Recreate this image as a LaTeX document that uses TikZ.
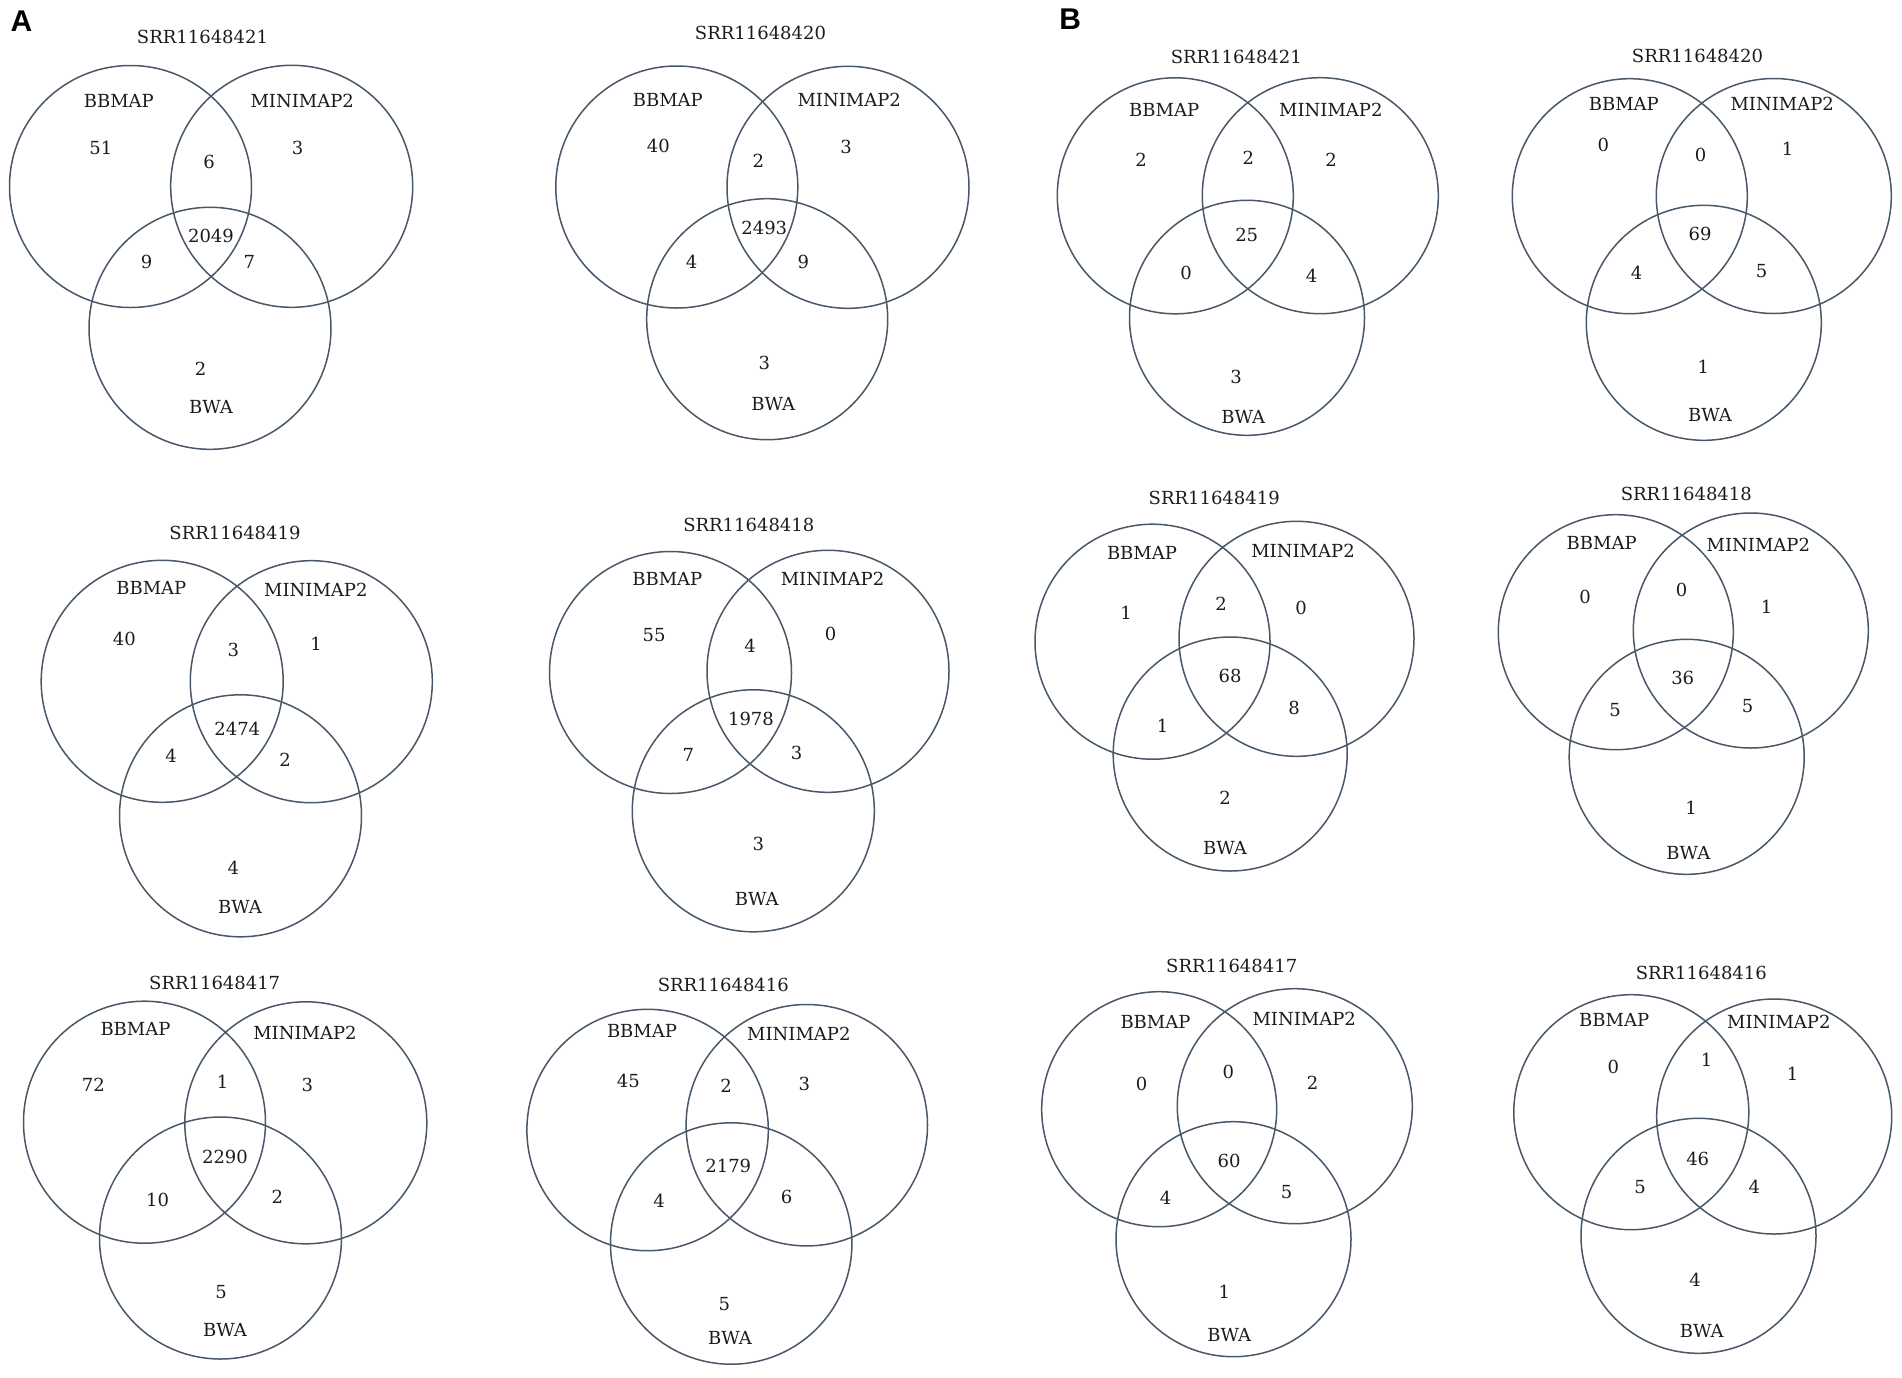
\documentclass[tikz,border=0pt]{standalone}
\usepackage{fontspec}
\setmainfont{DejaVu Serif}
\newfontfamily\panelfont{Liberation Sans}
\definecolor{ringcol}{RGB}{72,88,104}
\definecolor{txtcol}{RGB}{28,28,28}
\tikzset{
  ring/.style={draw=ringcol, line width=0.75pt},
  ttl/.style={inner sep=0pt, text=txtcol, font=\fontsize{9}{10}\selectfont},
  lbl/.style={inner sep=0pt, text=txtcol, font=\fontsize{9}{10}\selectfont},
  num/.style={inner sep=0pt, text=txtcol, font=\fontsize{9}{10}\selectfont},
  panel/.style={inner sep=0pt, text=black, font=\panelfont\bfseries\fontsize{15}{16}\selectfont}
}
\begin{document}
\begin{tikzpicture}[x=0.5pt,y=-0.5pt]
\useasboundingbox[fill=white] (0,0) rectangle (1902,1377);
\node[panel] (pA) at (21.5,21) {A};
\node[panel] (pB) at (1070.3,19.2) {B};
% ---------- D1 ----------
\coordinate (d1A) at (130.5,186.5); \coordinate (d1B) at (291.7,186.3); \coordinate (d1C) at (210,328.3);
\draw[ring] (d1A) circle[radius=121]; \draw[ring] (d1B) circle[radius=121]; \draw[ring] (d1C) circle[radius=121];
\node[ttl] (d1t) at (202.5,36.7) {SRR11648421};
\node[lbl] (d1la) at (118.8,100.5) {BBMAP};
\node[lbl] (d1lb) at (302.2,100.5) {MINIMAP2};
\node[lbl] (d1lc) at (211,406.7) {BWA};
\node[num] (d1a) at (100.8,147.5) {51};
\node[num] (d1b) at (297.7,147.7) {3};
\node[num] (d1ab) at (209,161.7) {6};
\node[num] (d1abc) at (211,236.3) {2049};
\node[num] (d1ac) at (146.7,261.7) {9};
\node[num] (d1bc) at (249.3,261.7) {7};
\node[num] (d1c) at (200.7,369.3) {2};
% ---------- D2 ----------
\coordinate (d2A) at (676.8,187); \coordinate (d2B) at (848,187.3); \coordinate (d2C) at (767.2,319.2);
\draw[ring] (d2A) circle[radius=121]; \draw[ring] (d2B) circle[radius=121]; \draw[ring] (d2C) circle[radius=120.5];
\node[ttl] (d2t) at (760.5,33.3) {SRR11648420};
\node[lbl] (d2la) at (667.8,100) {BBMAP};
\node[lbl] (d2lb) at (849.2,100) {MINIMAP2};
\node[lbl] (d2lc) at (773.3,404.3) {BWA};
\node[num] (d2a) at (658.3,145.7) {40};
\node[num] (d2b) at (846,146.7) {3};
\node[num] (d2ab) at (758.3,161) {2};
\node[num] (d2abc) at (764.3,228.3) {2493};
\node[num] (d2ac) at (691.7,262.3) {4};
\node[num] (d2bc) at (803.3,261.7) {9};
\node[num] (d2c) at (764.3,363.3) {3};
% ---------- D3 ----------
\coordinate (d3A) at (1175.3,195.8); \coordinate (d3B) at (1320.3,195.7); \coordinate (d3C) at (1247,317.8);
\draw[ring] (d3A) circle[radius=118]; \draw[ring] (d3B) circle[radius=118]; \draw[ring] (d3C) circle[radius=117.5];
\node[ttl] (d3t) at (1236.3,56.7) {SRR11648421};
\node[lbl] (d3la) at (1164.2,110) {BBMAP};
\node[lbl] (d3lb) at (1330.8,110) {MINIMAP2};
\node[lbl] (d3lc) at (1243.3,416.7) {BWA};
\node[num] (d3a) at (1141,160) {2};
\node[num] (d3b) at (1331,160) {2};
\node[num] (d3ab) at (1248.3,157.7) {2};
\node[num] (d3abc) at (1246.7,235) {25};
\node[num] (d3ac) at (1186,272.7) {0};
\node[num] (d3bc) at (1311.7,276) {4};
\node[num] (d3c) at (1236,376.7) {3};
% ---------- D4 ----------
\coordinate (d4A) at (1629.8,196.2); \coordinate (d4B) at (1773.8,196); \coordinate (d4C) at (1703.8,322.8);
\draw[ring] (d4A) circle[radius=117.5]; \draw[ring] (d4B) circle[radius=117.5]; \draw[ring] (d4C) circle[radius=117.5];
\node[ttl] (d4t) at (1697.5,56) {SRR11648420};
\node[lbl] (d4la) at (1623.8,104.3) {BBMAP};
\node[lbl] (d4lb) at (1782.2,104.3) {MINIMAP2};
\node[lbl] (d4lc) at (1710,415) {BWA};
\node[num] (d4a) at (1603.3,145) {0};
\node[num] (d4b) at (1787.7,149) {1};
\node[num] (d4ab) at (1700.7,155) {0};
\node[num] (d4abc) at (1700,234.3) {69};
\node[num] (d4ac) at (1636.7,273.3) {4};
\node[num] (d4bc) at (1761.7,270.7) {5};
\node[num] (d4c) at (1703.3,366.7) {1};
% ---------- D5 ----------
\coordinate (d5A) at (162.2,681.3); \coordinate (d5B) at (311.3,681.7); \coordinate (d5C) at (240.5,815.8);
\draw[ring] (d5A) circle[radius=121]; \draw[ring] (d5B) circle[radius=121]; \draw[ring] (d5C) circle[radius=121];
\node[ttl] (d5t) at (235,532.7) {SRR11648419};
\node[lbl] (d5la) at (151.3,588.3) {BBMAP};
\node[lbl] (d5lb) at (315.8,590) {MINIMAP2};
\node[lbl] (d5lc) at (240,907.3) {BWA};
\node[num] (d5a) at (124.3,639.3) {40};
\node[num] (d5b) at (316,644.3) {1};
\node[num] (d5ab) at (233.3,650) {3};
\node[num] (d5abc) at (237.3,729.3) {2474};
\node[num] (d5ac) at (171,756) {4};
\node[num] (d5bc) at (285,760) {2};
\node[num] (d5c) at (233.3,868.3) {4};
% ---------- D6 ----------
\coordinate (d6A) at (670.5,672.5); \coordinate (d6B) at (828,671.3); \coordinate (d6C) at (753.3,810.8);
\draw[ring] (d6A) circle[radius=121]; \draw[ring] (d6B) circle[radius=121]; \draw[ring] (d6C) circle[radius=121];
\node[ttl] (d6t) at (748.8,525) {SRR11648418};
\node[lbl] (d6la) at (667.3,579.3) {BBMAP};
\node[lbl] (d6lb) at (832.5,579.3) {MINIMAP2};
\node[lbl] (d6lc) at (756.7,899) {BWA};
\node[num] (d6a) at (654,635) {55};
\node[num] (d6b) at (830.7,634.3) {0};
\node[num] (d6ab) at (750,645.7) {4};
\node[num] (d6abc) at (751,719.3) {1978};
\node[num] (d6ac) at (688.3,755) {7};
\node[num] (d6bc) at (796.7,752.7) {3};
\node[num] (d6c) at (758.3,844.3) {3};
% ---------- D7 ----------
\coordinate (d7A) at (1152.5,641.7); \coordinate (d7B) at (1296.5,638.8); \coordinate (d7C) at (1230.2,754);
\draw[ring] (d7A) circle[radius=117.5]; \draw[ring] (d7B) circle[radius=117.5]; \draw[ring] (d7C) circle[radius=117];
\node[ttl] (d7t) at (1214.2,498.3) {SRR11648419};
\node[lbl] (d7la) at (1142,553.3) {BBMAP};
\node[lbl] (d7lb) at (1303,551) {MINIMAP2};
\node[lbl] (d7lc) at (1225,847.7) {BWA};
\node[num] (d7a) at (1126,612.7) {1};
\node[num] (d7b) at (1301,607.7) {0};
\node[num] (d7ab) at (1221,604) {2};
\node[num] (d7abc) at (1230,675.7) {68};
\node[num] (d7ac) at (1162.7,725.7) {1};
\node[num] (d7bc) at (1294,708.3) {8};
\node[num] (d7c) at (1225,797.7) {2};
% ---------- D8 ----------
\coordinate (d8A) at (1615.8,632.2); \coordinate (d8B) at (1750.8,630.5); \coordinate (d8C) at (1686.7,756.8);
\draw[ring] (d8A) circle[radius=117.5]; \draw[ring] (d8B) circle[radius=117.5]; \draw[ring] (d8C) circle[radius=117.5];
\node[ttl] (d8t) at (1686.3,494) {SRR11648418};
\node[lbl] (d8la) at (1601.7,543.3) {BBMAP};
\node[lbl] (d8lb) at (1758.3,545) {MINIMAP2};
\node[lbl] (d8lc) at (1688.3,853.3) {BWA};
\node[num] (d8a) at (1585,596.7) {0};
\node[num] (d8b) at (1766.7,607.3) {1};
\node[num] (d8ab) at (1681.7,590) {0};
\node[num] (d8abc) at (1682.7,678.3) {36};
\node[num] (d8ac) at (1615,710) {5};
\node[num] (d8bc) at (1747.7,706) {5};
\node[num] (d8c) at (1691,807.7) {1};
% ---------- D9 ----------
\coordinate (d9A) at (144.5,1122.2); \coordinate (d9B) at (305.8,1122.8); \coordinate (d9C) at (220.5,1238);
\draw[ring] (d9A) circle[radius=121]; \draw[ring] (d9B) circle[radius=121]; \draw[ring] (d9C) circle[radius=121];
\node[ttl] (d9t) at (214.7,983.3) {SRR11648417};
\node[lbl] (d9la) at (135.5,1029.3) {BBMAP};
\node[lbl] (d9lb) at (305,1032.7) {MINIMAP2};
\node[lbl] (d9lc) at (225,1330) {BWA};
\node[num] (d9a) at (93.3,1085) {72};
\node[num] (d9b) at (307.3,1085) {3};
\node[num] (d9ab) at (222.7,1081.7) {1};
\node[num] (d9abc) at (225,1157.3) {2290};
\node[num] (d9ac) at (157.7,1200) {10};
\node[num] (d9bc) at (277.3,1196.7) {2};
\node[num] (d9c) at (221,1291.7) {5};
% ---------- D10 ----------
\coordinate (d10A) at (647.6,1130); \coordinate (d10B) at (806.8,1125.2); \coordinate (d10C) at (731.2,1243.5);
\draw[ring] (d10A) circle[radius=120.7]; \draw[ring] (d10B) circle[radius=120.7]; \draw[ring] (d10C) circle[radius=120.7];
\node[ttl] (d10t) at (723.3,985) {SRR11648416};
\node[lbl] (d10la) at (642,1031) {BBMAP};
\node[lbl] (d10lb) at (798.8,1034.3) {MINIMAP2};
\node[lbl] (d10lc) at (730,1338.3) {BWA};
\node[num] (d10a) at (628.3,1081) {45};
\node[num] (d10b) at (804.3,1084.3) {3};
\node[num] (d10ab) at (726,1086) {2};
\node[num] (d10abc) at (728.3,1166) {2179};
\node[num] (d10ac) at (659,1201) {4};
\node[num] (d10bc) at (786.7,1197.3) {6};
\node[num] (d10c) at (724.3,1304.3) {5};
% ---------- D11 ----------
\coordinate (d11A) at (1159.2,1109.2); \coordinate (d11B) at (1294.8,1106.2); \coordinate (d11C) at (1233.5,1239.2);
\draw[ring] (d11A) circle[radius=117.5]; \draw[ring] (d11B) circle[radius=117.5]; \draw[ring] (d11C) circle[radius=117.5];
\node[ttl] (d11t) at (1231.7,966) {SRR11648417};
\node[lbl] (d11la) at (1155.5,1021.7) {BBMAP};
\node[lbl] (d11lb) at (1304.2,1019.3) {MINIMAP2};
\node[lbl] (d11lc) at (1229.3,1335) {BWA};
\node[num] (d11a) at (1141.7,1084) {0};
\node[num] (d11b) at (1312.7,1082.7) {2};
\node[num] (d11ab) at (1228.3,1072.3) {0};
\node[num] (d11abc) at (1229,1161) {60};
\node[num] (d11ac) at (1165.7,1197.7) {4};
\node[num] (d11bc) at (1286.7,1192.3) {5};
\node[num] (d11c) at (1224.3,1291.7) {1};
% ---------- D12 ----------
\coordinate (d12A) at (1631.3,1112.2); \coordinate (d12B) at (1774.2,1116.5); \coordinate (d12C) at (1698.5,1235.8);
\draw[ring] (d12A) circle[radius=117.5]; \draw[ring] (d12B) circle[radius=117.5]; \draw[ring] (d12C) circle[radius=117.5];
\node[ttl] (d12t) at (1701.3,973.3) {SRR11648416};
\node[lbl] (d12la) at (1614.2,1020) {BBMAP};
\node[lbl] (d12lb) at (1778.8,1021.7) {MINIMAP2};
\node[lbl] (d12lc) at (1701.7,1331) {BWA};
\node[num] (d12a) at (1613.3,1067.3) {0};
\node[num] (d12b) at (1792.7,1074.3) {1};
\node[num] (d12ab) at (1706.7,1060) {1};
\node[num] (d12abc) at (1697.7,1159) {46};
\node[num] (d12ac) at (1640,1186.7) {5};
\node[num] (d12bc) at (1754.3,1186.7) {4};
\node[num] (d12c) at (1695,1280) {4};
\end{tikzpicture}
\end{document}
